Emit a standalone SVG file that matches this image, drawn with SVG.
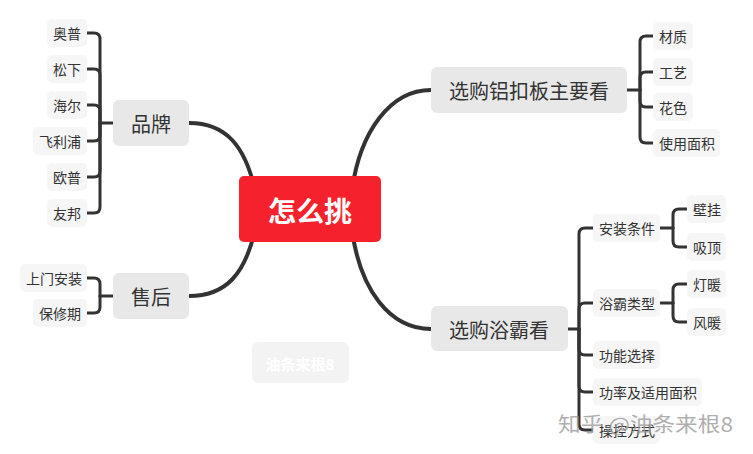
<svg xmlns="http://www.w3.org/2000/svg" width="753" height="454" viewBox="0 0 753 454">
<style>
text{font-family:"Noto Sans CJK SC","Noto Sans",sans-serif;dominant-baseline:central;}
.main rect{fill:#e8e8e8;}
.main text{font-size:20px;fill:#333;text-anchor:middle;}
.leaf rect{fill:#f6f6f6;}
.leaf text{font-size:14px;fill:#333;}
.conn path{fill:none;stroke:#333;stroke-linecap:round;}
.trunk{stroke-width:4;}
.br{stroke-width:3;}
</style>
<rect width="753" height="454" fill="#fff"/>
<g class="conn">
  <path class="trunk" d="M189,123 C226,123 245,146 255,190"/>
  <path class="trunk" d="M189,296 C226,296 245,274 255,230"/>
  <path class="trunk" d="M352,190 C360,132 390,90 431,90"/>
  <path class="trunk" d="M352,230 C360,290 390,329 431,329"/>
  <!-- brand -->
  <path class="br" d="M113,123 H100"/>
  <path class="br" d="M100,123 V39 Q100,33 94,33 H87"/>
  <path class="br" d="M100,123 V75 Q100,69 94,69 H87"/>
  <path class="br" d="M100,123 V111 Q100,105 94,105 H87"/>
  <path class="br" d="M100,123 V135 Q100,141 94,141 H87"/>
  <path class="br" d="M100,123 V171 Q100,177 94,177 H87"/>
  <path class="br" d="M100,123 V207 Q100,213 94,213 H87"/>
  <!-- after sale -->
  <path class="br" d="M113,296 H100"/>
  <path class="br" d="M100,296 V284 Q100,278 94,278 H87"/>
  <path class="br" d="M100,296 V307 Q100,313 94,313 H87"/>
  <!-- aluminum -->
  <path class="br" d="M627,90 H640"/>
  <path class="br" d="M640,90 V42 Q640,36 646,36 H653"/>
  <path class="br" d="M640,90 V78 Q640,72 646,72 H653"/>
  <path class="br" d="M640,90 V101 Q640,107 646,107 H653"/>
  <path class="br" d="M640,90 V137 Q640,143 646,143 H653"/>
  <!-- yuba -->
  <path class="br" d="M568,329 H579"/>
  <path class="br" d="M579,329 V234 Q579,228 585,228 H593"/>
  <path class="br" d="M579,329 V309 Q579,303 585,303 H593"/>
  <path class="br" d="M579,329 V349 Q579,355 585,355 H593"/>
  <path class="br" d="M579,329 V386 Q579,392 585,392 H593"/>
  <path class="br" d="M579,329 V424 Q579,430 585,430 H593"/>
  <path class="br" d="M660,228 H673"/>
  <path class="br" d="M673,228 V215 Q673,209 679,209 H687"/>
  <path class="br" d="M673,228 V241 Q673,247 679,247 H687"/>
  <path class="br" d="M660,303 H673"/>
  <path class="br" d="M673,303 V290 Q673,284 679,284 H687"/>
  <path class="br" d="M673,303 V316 Q673,322 679,322 H687"/>
</g>
<g id="center">
  <rect x="239" y="176" width="142" height="66" rx="5" fill="#f5222d"/>
  <text x="310" y="210" font-size="28" font-weight="bold" fill="#fff" text-anchor="middle">怎么挑</text>
</g>
<g id="brand" class="main"><rect x="113" y="100" width="76" height="46" rx="6"/><text x="151" y="123">品牌</text></g>
<g id="aftersale" class="main"><rect x="113" y="273" width="76" height="46" rx="6"/><text x="151" y="296">售后</text></g>
<g id="aluminum" class="main"><rect x="431" y="67" width="196" height="46" rx="6"/><text x="529" y="90" textLength="160" lengthAdjust="spacing">选购铝扣板主要看</text></g>
<g id="yuba" class="main"><rect x="431" y="306" width="137" height="45" rx="6"/><text x="499" y="329">选购浴霸看</text></g>

<g id="aopu" class="leaf"><rect x="47" y="19" width="40" height="28" rx="5"/><text x="53" y="33">奥普</text></g>
<g id="songxia" class="leaf"><rect x="47" y="55" width="40" height="28" rx="5"/><text x="53" y="69">松下</text></g>
<g id="haier" class="leaf"><rect x="47" y="91" width="40" height="28" rx="5"/><text x="53" y="105">海尔</text></g>
<g id="philips" class="leaf"><rect x="33" y="127" width="54" height="28" rx="5"/><text x="39" y="141">飞利浦</text></g>
<g id="oupu" class="leaf"><rect x="47" y="163" width="40" height="28" rx="5"/><text x="53" y="177">欧普</text></g>
<g id="youbang" class="leaf"><rect x="47" y="199" width="40" height="28" rx="5"/><text x="53" y="213">友邦</text></g>

<g id="install-home" class="leaf"><rect x="20" y="264" width="67" height="28" rx="5"/><text x="26" y="278">上门安装</text></g>
<g id="warranty" class="leaf"><rect x="33" y="299" width="54" height="28" rx="5"/><text x="39" y="313">保修期</text></g>

<g id="material" class="leaf"><rect x="653" y="22" width="40" height="28" rx="5"/><text x="659" y="36">材质</text></g>
<g id="craft" class="leaf"><rect x="653" y="58" width="40" height="28" rx="5"/><text x="659" y="72">工艺</text></g>
<g id="pattern" class="leaf"><rect x="653" y="93" width="40" height="28" rx="5"/><text x="659" y="107">花色</text></g>
<g id="area" class="leaf"><rect x="653" y="129" width="67" height="28" rx="5"/><text x="659" y="143">使用面积</text></g>

<g id="cond" class="leaf"><rect x="593" y="214" width="67" height="28" rx="5"/><text x="599" y="228">安装条件</text></g>
<g id="type" class="leaf"><rect x="593" y="289" width="67" height="28" rx="5"/><text x="599" y="303">浴霸类型</text></g>
<g id="func" class="leaf"><rect x="593" y="341" width="67" height="28" rx="5"/><text x="599" y="355">功能选择</text></g>
<g id="power" class="leaf"><rect x="593" y="378" width="109" height="28" rx="5"/><text x="599" y="392">功率及适用面积</text></g>
<g id="control" class="leaf"><rect x="593" y="416" width="67" height="28" rx="5"/><text x="599" y="430">操控方式</text></g>

<g id="wall" class="leaf"><rect x="687" y="195" width="39" height="28" rx="5"/><text x="693" y="209">壁挂</text></g>
<g id="ceiling" class="leaf"><rect x="687" y="233" width="39" height="28" rx="5"/><text x="693" y="247">吸顶</text></g>
<g id="lamp" class="leaf"><rect x="687" y="270" width="39" height="28" rx="5"/><text x="693" y="284">灯暖</text></g>
<g id="wind" class="leaf"><rect x="687" y="308" width="39" height="28" rx="5"/><text x="693" y="322">风暖</text></g>

<g id="watermark-box">
  <rect x="252" y="342" width="97" height="41" rx="6" fill="#f3f3f3"/>
  <text x="300" y="363" font-size="15" font-weight="bold" fill="#fff" text-anchor="middle">油条来根8</text>
</g>
<text x="558" y="423" font-size="20" fill="#999" fill-opacity="0.8" textLength="175" lengthAdjust="spacingAndGlyphs">知乎 @油条来根8</text>
</svg>
